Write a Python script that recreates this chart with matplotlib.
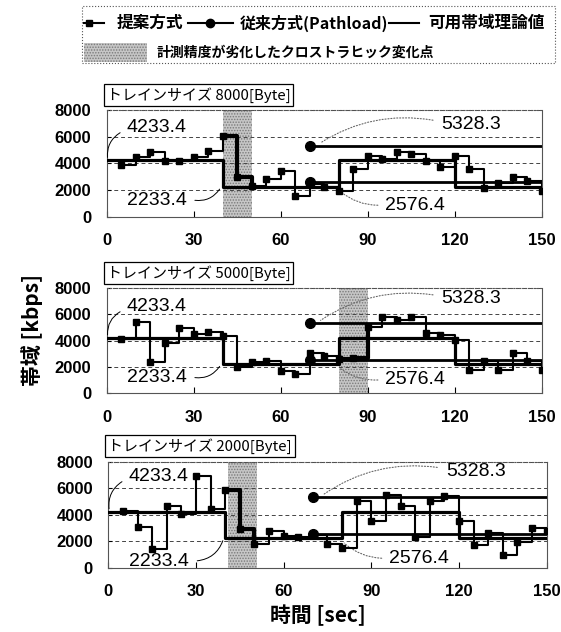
import matplotlib
matplotlib.use("Agg")
import matplotlib.pyplot as plt
from matplotlib.patches import Rectangle
from matplotlib.lines import Line2D

plt.rcParams['font.family'] = ['Liberation Sans', 'Noto Sans CJK JP', 'DejaVu Sans']
plt.rcParams['hatch.linewidth'] = 0.7
JP = ['Noto Sans CJK JP', 'DejaVu Sans']

# measurement times of the proposed method [sec]
T = list(range(5, 155, 5))
SIZES = ["8000", "5000", "2000"]
# proposed method, estimated bandwidth [kbps]
PROP_8000 = [3870, 4494, 4816, 4195, 4195, 4494, 4944, 6067, 2944, 2322,
             2824, 3446, 1573, 2450, 2250, 1950, 3570, 4569, 4320, 4819,
             4694, 4195, 3695, 4569, 3570, 2147, 2500, 3000, 2700, 1950]
PROP_5000 = [4156, 5444, 2356, 3837, 4948, 4504, 4652, 4356, 2037, 2356,
             2481, 1689, 1481, 3096, 2852, 2630, 2680, 5074, 5815, 5570,
             5765, 4578, 4456, 4086, 1793, 2481, 1793, 3096, 2481, 1793]
PROP_2000 = [4250, 3060, 1390, 4630, 4076, 6907, 4425, 5897, 2907, 1800,
             2730, 2400, 2300, 2450, 1750, 1521, 5065, 3498, 5521, 4639,
             2281, 5065, 5399, 3498, 1719, 2608, 958, 1924, 2989, 2800]
PROPOSED = [PROP_8000, PROP_5000, PROP_2000]
# theoretical available bandwidth
THEORY_T = [0, 40, 80, 120, 150]
THEORY_V = [4233.4, 2233.4, 4233.4, 2233.4, 2233.4]
# Pathload (conventional) result range
PATH_T = [70, 150]
PATH_HI = [5328.3, 5328.3]
PATH_LO = [2576.4, 2576.4]
# cross-traffic change points where accuracy degraded
SHADE = [(40, 50), (80, 90), (41, 51)]

fig = plt.figure(figsize=(5.61, 6.32), dpi=100)
rects = [[0.190, 0.6574, 0.7754, 0.1685],
         [0.190, 0.3774, 0.7754, 0.1669],
         [0.193, 0.1018, 0.7815, 0.1677]]
# label y-positions per panel: 4233.4, 2233.4, 5328.3, 2576.4
LAB_Y = [(6700, 1200, 6950, 850), (6600, 1185, 7200, 1037), (6900, 450, 7290, 706)]

for k, (rect, size, vals, (s0, s1)) in enumerate(zip(rects, SIZES, PROPOSED, SHADE)):
    ax = fig.add_axes(rect)
    ax.set_xlim(0, 150)
    ax.set_ylim(0, 8000)
    ax.axvspan(s0, s1, facecolor='#c6c6c6', edgecolor='#7a7a7a', hatch='......',
               lw=0, zorder=0)
    ax.set_yticks([0, 2000, 4000, 6000, 8000])
    ax.set_xticks([0, 30, 60, 90, 120, 150])
    ax.grid(axis='y', ls=(0, (4, 3)), lw=0.7, color='#444444', zorder=1)

    ax.step(THEORY_T, THEORY_V, where='post', color='k', lw=2.3, zorder=3)
    ax.step(T, vals, where='post', color='k', lw=1.5, marker='s', ms=4.3, zorder=4)
    sel = [i for i, t in enumerate(T) if s0 - 1 <= t <= s1]
    ax.step([T[i] for i in sel], [vals[i] for i in sel], where='post',
            color='k', lw=3.0, zorder=4)
    ax.plot(PATH_T, PATH_HI, color='k', lw=2.0, marker='o', ms=7,
            markevery=[0], zorder=5)
    ax.plot(PATH_T, PATH_LO, color='k', lw=2.0, marker='o', ms=7,
            markevery=[0], zorder=5)

    y1, y2, y3, y4 = LAB_Y[k]
    ax.text(7, y1, "4233.4", fontsize=14, va='center', ha='left', zorder=6)
    ax.text(7, y2, "2233.4", fontsize=14, va='center', ha='left', zorder=6)
    ax.text(115.5, y3, "5328.3", fontsize=14, va='center', ha='left', zorder=6)
    ax.text(96, y4, "2576.4", fontsize=14, va='center', ha='left', zorder=6)
    ax.annotate('', xy=(0.4, THEORY_V[0]), xytext=(5.5, y1 - 300),
                arrowprops=dict(arrowstyle='-', lw=0.7, color='k',
                                connectionstyle='arc3,rad=0.35'))
    ax.annotate('', xy=(39.5, THEORY_V[1]), xytext=(29.5, y2 + 50),
                arrowprops=dict(arrowstyle='-', lw=0.7, color='k',
                                connectionstyle='arc3,rad=0.35'))
    ax.annotate('', xy=(73, PATH_HI[0] + 100), xytext=(113.5, y3 + 250),
                arrowprops=dict(arrowstyle='-', lw=0.8, color='#666666', ls=':',
                                connectionstyle='arc3,rad=0.2'))
    ax.annotate('', xy=(80, 2000), xytext=(94.5, y4),
                arrowprops=dict(arrowstyle='-', lw=0.8, color='#666666', ls=':',
                                connectionstyle='arc3,rad=-0.2'))

    ax.text(0.0, 1.07, f"トレインサイズ {size}[Byte]", transform=ax.transAxes,
            family=JP, fontsize=10.8, ha='left', va='bottom',
            bbox=dict(boxstyle='square,pad=0.2', fc='white', ec='k', lw=0.9),
            zorder=7)

    ax.tick_params(axis='x', direction='in', length=4, pad=12, labelsize=12)
    ax.tick_params(axis='y', direction='in', length=3, pad=11, labelsize=12)
    for lab in ax.get_xticklabels() + ax.get_yticklabels():
        lab.set_fontweight('bold')
    for side in ['left', 'bottom', 'right', 'top']:
        ax.spines[side].set_color('#555555')
        ax.spines[side].set_linewidth(0.8)
    ax.spines['top'].set_linestyle(':')

fig.text(0.057, 0.478, "帯域 [kbps]", rotation=90, family=JP, fontsize=15,
         fontweight='bold', ha='center', va='center')
fig.text(0.567, 0.027, "時間 [sec]", family=JP, fontsize=15,
         fontweight='bold', ha='center', va='center')

# legend drawn in figure coordinates
W, H = 561.0, 632.0
def fx(px): return px / W
def fy(py): return 1 - py / H

fig.patches.append(Rectangle((fx(82), fy(63)), fx(555) - fx(82), fy(6) - fy(63),
                             transform=fig.transFigure, fill=False, ec='#555555',
                             lw=0.8, ls=':'))
r1, r2 = fy(23), fy(53)
fig.lines.append(Line2D([fx(84), fx(104)], [r1, r1], color='k', lw=1.5,
                        transform=fig.transFigure))
fig.lines.append(Line2D([fx(89)], [r1], color='k', marker='s', ms=5,
                        transform=fig.transFigure))
fig.text(fx(117), r1, "提案方式", family=JP, fontsize=12, fontweight='bold',
         va='center', ha='left')
fig.lines.append(Line2D([fx(188), fx(233)], [r1, r1], color='k', lw=1.5,
                        transform=fig.transFigure))
fig.lines.append(Line2D([fx(210)], [r1], color='k', marker='o', ms=6,
                        transform=fig.transFigure))
fig.text(fx(240), r1, "従来方式(Pathload)", family=JP, fontsize=11.5,
         fontweight='bold', va='center', ha='left')
fig.lines.append(Line2D([fx(389), fx(419)], [r1, r1], color='k', lw=1.5,
                        transform=fig.transFigure))
fig.text(fx(428), r1, "可用帯域理論値", family=JP, fontsize=12,
         fontweight='bold', va='center', ha='left')
fig.patches.append(Rectangle((fx(84), fy(62)), fx(147) - fx(84), fy(43) - fy(62),
                             transform=fig.transFigure, facecolor='#c6c6c6',
                             edgecolor='#7a7a7a', hatch='......', lw=0))
fig.text(fx(157), r2, "計測精度が劣化したクロストラヒック変化点", family=JP,
         fontsize=10, fontweight='bold', va='center', ha='left')

fig.savefig("out.png", dpi=100)
